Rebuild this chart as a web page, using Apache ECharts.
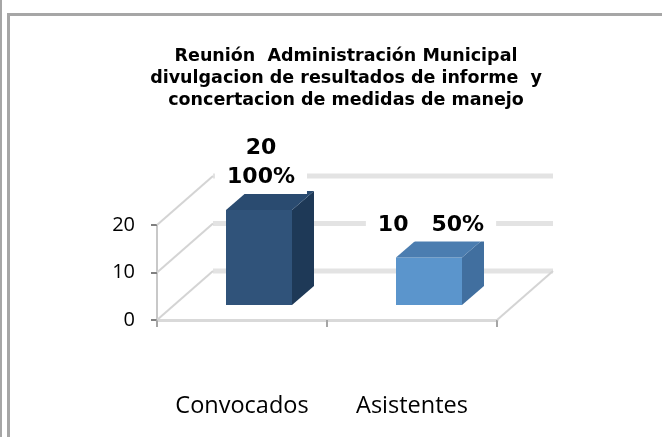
<!DOCTYPE html>
<html>
<head>
<meta charset="utf-8">
<script src="https://cdn.jsdelivr.net/npm/echarts@6/dist/echarts.min.js"></script>
<style>
  html, body { margin: 0; padding: 0; background: #fff; }
  #main { width: 662px; height: 437px; }
</style>
</head>
<body>
<div id="main"></div>
<script>
// data
const categories = ['Convocados', 'Asistentes'];
const values = [20, 10];
const percents = ['100%', '50%'];
const labelJoins = ['\n', '   '];
const yTicks = [0, 10, 20];

const barColors = [
  {front: '#30537A', side: '#1E3957', top: '#2A4B70'},
  {front: '#5B95CC', side: '#416F9F', top: '#4B7DB0'}
];

// fake 3d look
const DEPTH = [56, -49];     // back wall offset from the front plane
const BAR_SHIFT = [17, -15]; // where the bar front face sits inside the box
const BAR_W = 66;
const BAR_D = [22, -19];

let chart = echarts.init(document.getElementById('main'));

function renderWall(params, api) {
  let cs = params.coordSys;
  let v = api.value(1);
  let y = api.coord([0, v])[1];
  let x0 = cs.x, x1 = cs.x + cs.width;
  let kids = [
    {type: 'line', shape: {x1: x0 + DEPTH[0], y1: y + DEPTH[1], x2: x1 + DEPTH[0], y2: y + DEPTH[1]},
      style: {stroke: '#E3E3E3', lineWidth: 5}},
    {type: 'line', shape: {x1: x0, y1: y, x2: x0 + DEPTH[0], y2: y + DEPTH[1]},
      style: {stroke: '#D4D4D4', lineWidth: 2}}
  ];
  if (v === 0) {
    kids.push({type: 'line', shape: {x1: x1, y1: y, x2: x1 + DEPTH[0], y2: y + DEPTH[1]},
      style: {stroke: '#D4D4D4', lineWidth: 2}});
  }
  return {type: 'group', children: kids};
}

function renderBar(params, api) {
  let i = params.dataIndex;
  let top = api.coord([api.value(0), api.value(1)]);
  let base = api.coord([api.value(0), 0]);
  let cx = top[0] + BAR_SHIFT[0];
  let x0 = cx - BAR_W / 2, x1 = cx + BAR_W / 2;
  let yb = base[1] + BAR_SHIFT[1], yt = top[1] + BAR_SHIFT[1];
  let dx = BAR_D[0], dy = BAR_D[1];
  let c = barColors[i];
  return {
    type: 'group',
    children: [
      {type: 'polygon', shape: {points: [[x0, yt], [x1, yt], [x1, yb], [x0, yb]]}, style: {fill: c.front}},
      {type: 'polygon', shape: {points: [[x1, yt], [x1 + dx, yt + dy], [x1 + dx, yb + dy], [x1, yb]]}, style: {fill: c.side}},
      {type: 'polygon', shape: {points: [[x0, yt], [x0 + dx, yt + dy], [x1 + dx, yt + dy], [x1, yt]]}, style: {fill: c.top}},
      {type: 'text', x: cx + 2, y: yt + dy + 3,
        style: {
          text: values[i] + labelJoins[i] + percents[i],
          fill: '#000', font: 'bold 22px "DejaVu Sans"', lineHeight: 29,
          align: 'center', verticalAlign: 'bottom',
          backgroundColor: '#fff', padding: [2, 12]
        }}
    ]
  };
}

let option = {
  backgroundColor: '#fff',
  animation: false,
  title: {
    text: 'Reunión  Administración Municipal\ndivulgacion de resultados de informe  y\nconcertacion de medidas de manejo',
    left: 341, top: 40, textAlign: 'center',
    textStyle: {fontFamily: 'DejaVu Sans', fontWeight: 'bold', fontSize: 17.5, lineHeight: 22, color: '#000'}
  },
  graphic: [
    {type: 'rect', shape: {x: 0, y: 0, width: 2, height: 437}, style: {fill: '#A6A6A6'}},
    {type: 'rect', shape: {x: 7, y: 13, width: 3, height: 424}, style: {fill: '#A6A6A6'}},
    {type: 'rect', shape: {x: 7, y: 13, width: 655, height: 3}, style: {fill: '#A6A6A6'}}
  ],
  grid: {left: 157, right: 165, top: 225, bottom: 117},
  xAxis: {
    type: 'category', data: categories,
    axisLine: {lineStyle: {color: '#D9D9D9', width: 3}},
    axisTick: {show: true, interval: 0, length: 7, lineStyle: {color: '#A6A6A6', width: 2}},
    axisLabel: {interval: 0, hideOverlap: false, margin: 74, fontFamily: 'Open Sans', fontSize: 23.5, color: '#000'}
  },
  yAxis: {
    type: 'value', min: 0, max: 20, interval: 10,
    axisLine: {show: true, lineStyle: {color: '#C8C8C8', width: 2}},
    axisTick: {show: true, length: 6, lineStyle: {color: '#808080', width: 2}},
    axisLabel: {margin: 22, fontFamily: 'Open Sans', fontSize: 20, color: '#000', padding: [5, 0, 0, 0]},
    splitLine: {show: false}
  },
  series: [
    {type: 'custom', renderItem: renderWall, clip: false, z: 1,
      encode: {x: 0, y: 1}, data: yTicks.map(v => [0, v])},
    {type: 'custom', renderItem: renderBar, clip: false, z: 2,
      encode: {x: 0, y: 1}, data: values.map((v, i) => [i, v])}
  ]
};
chart.setOption(option);
</script>
</body>
</html>
